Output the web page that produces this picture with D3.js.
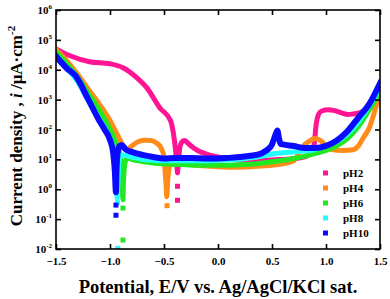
<!DOCTYPE html>
<html><head><meta charset="utf-8">
<script src="https://cdn.jsdelivr.net/npm/d3@7"></script>
<style>body{margin:0;background:#fff}svg{display:block}text{font-family:"Liberation Serif","Times New Roman",serif;font-weight:bold}</style>
</head><body>
<svg id="c" width="390" height="299"></svg>
<script>
// Potential (V) and log10 of current density (µA/cm²)
const seriesNames = ["pH2","pH4","pH6","pH8","pH10"];
const seriesColors = ["#ff1493","#ff8c1a","#22e822","#22ffff","#0a0aff"];

const pH2_E   = [-1.5,-1.37,-1.19,-1.0,-0.88,-0.75,-0.66,-0.54,-0.44,-0.41,-0.39,-0.38,-0.375,-0.365,-0.355,-0.34,-0.31,-0.28,-0.24,-0.18,-0.1,0.0,0.1,0.2,0.3,0.4,0.5,0.6,0.7,0.8,0.86,0.89,0.91,0.93,0.96,1.02,1.08,1.15,1.2,1.25,1.3,1.35,1.4,1.45,1.5];
const pH2_logI= [4.7,4.47,4.27,4.2,4.07,3.73,3.4,2.73,2.3,1.8,1.2,0.75,0.55,1.0,1.35,1.55,1.63,1.55,1.42,1.28,1.17,1.08,1.0,0.98,0.97,0.97,0.98,1.0,1.02,1.08,1.2,1.5,2.2,2.5,2.62,2.66,2.63,2.55,2.5,2.52,2.55,2.62,2.7,2.82,2.97];
const pH2_dotsE = [-0.375,-0.375];
const pH2_dotsLogI = [0.1,-0.37];

const pH4_E   = [-1.5,-1.4,-1.3,-1.2,-1.1,-1.0,-0.95,-0.9,-0.87,-0.85,-0.82,-0.78,-0.73,-0.68,-0.62,-0.57,-0.53,-0.5,-0.49,-0.48,-0.475,-0.465,-0.455,-0.44,-0.4,-0.3,-0.2,-0.1,0.0,0.1,0.2,0.3,0.4,0.5,0.6,0.7,0.74,0.78,0.84,0.9,0.96,1.0,1.05,1.15,1.25,1.3,1.35,1.4,1.45,1.5];
const pH4_logI= [4.68,4.3,3.85,3.35,2.85,2.3,1.95,1.6,1.38,1.3,1.38,1.5,1.6,1.64,1.63,1.55,1.4,1.1,0.6,0.1,-0.25,0.3,0.65,0.82,0.88,0.85,0.8,0.78,0.75,0.74,0.74,0.75,0.78,0.8,0.85,0.95,1.15,1.4,1.6,1.7,1.6,1.45,1.33,1.3,1.32,1.45,1.75,2.05,2.6,3.25];
const pH4_dotsE = [-0.472];
const pH4_dotsLogI = [-0.55];

const pH6_E   = [-1.5,-1.4,-1.3,-1.2,-1.1,-1.0,-0.95,-0.91,-0.89,-0.885,-0.88,-0.875,-0.87,-0.86,-0.84,-0.8,-0.7,-0.6,-0.5,-0.4,-0.3,-0.2,-0.1,0.0,0.1,0.2,0.3,0.4,0.5,0.6,0.7,0.8,0.9,1.0,1.1,1.2,1.3,1.4,1.5];
const pH6_logI= [4.6,4.2,3.75,3.2,2.65,2.0,1.6,1.2,0.6,0.0,-0.35,0.3,0.6,0.9,1.05,1.0,0.93,0.88,0.85,0.83,0.82,0.8,0.8,0.8,0.8,0.82,0.84,0.87,0.92,0.97,1.03,1.1,1.2,1.3,1.45,1.7,2.1,2.65,3.3];
const pH6_dotsE = [-0.88,-0.88];
const pH6_dotsLogI = [-0.63,-1.7];

const pH8_E   = [-1.5,-1.4,-1.3,-1.2,-1.1,-1.0,-0.96,-0.94,-0.935,-0.925,-0.92,-0.91,-0.88,-0.8,-0.7,-0.6,-0.5,-0.4,-0.3,-0.2,-0.1,0.0,0.1,0.2,0.3,0.4,0.5,0.6,0.7,0.8,0.9,1.0,1.1,1.2,1.3,1.4,1.5];
const pH8_logI= [4.45,4.05,3.6,2.95,2.35,1.7,1.2,0.5,-0.3,0.4,0.8,1.05,1.15,1.08,1.0,0.97,0.95,0.95,0.95,0.95,0.95,0.97,0.98,1.0,1.05,1.1,1.18,1.22,1.25,1.28,1.33,1.45,1.6,1.85,2.25,2.8,3.4];
const pH8_dotsE = [-0.93,-0.93];
const pH8_dotsLogI = [-0.45,-1.98];

const pH10_E   = [-1.5,-1.4,-1.32,-1.2,-1.1,-1.05,-1.0,-0.97,-0.955,-0.945,-0.94,-0.93,-0.91,-0.89,-0.86,-0.8,-0.7,-0.6,-0.5,-0.4,-0.3,-0.2,-0.1,0.0,0.1,0.2,0.3,0.4,0.45,0.5,0.53,0.55,0.565,0.58,0.6,0.7,0.8,0.9,1.0,1.1,1.2,1.3,1.4,1.5];
const pH10_logI= [4.45,4.05,3.8,3.0,2.3,2.0,1.65,1.2,0.6,-0.1,0.6,1.2,1.45,1.48,1.35,1.25,1.15,1.08,1.03,1.05,1.05,1.04,1.03,1.03,1.05,1.08,1.12,1.2,1.3,1.5,1.8,1.97,1.7,1.52,1.5,1.45,1.38,1.38,1.45,1.63,1.95,2.4,2.85,3.55];
const pH10_dotsE = [-0.945,-0.945];
const pH10_dotsLogI = [-0.53,-0.87];

const xTicks = [-1.5,-1.0,-0.5,0.0,0.5,1.0,1.5];
const yExponents = [-2,-1,0,1,2,3,4,5,6];

const curves = [
  {E:pH2_E, L:pH2_logI, dE:pH2_dotsE, dL:pH2_dotsLogI},
  {E:pH4_E, L:pH4_logI, dE:pH4_dotsE, dL:pH4_dotsLogI},
  {E:pH6_E, L:pH6_logI, dE:pH6_dotsE, dL:pH6_dotsLogI},
  {E:pH8_E, L:pH8_logI, dE:pH8_dotsE, dL:pH8_dotsLogI},
  {E:pH10_E, L:pH10_logI, dE:pH10_dotsE, dL:pH10_dotsLogI}
];

const svg = d3.select("#c");
const m = {l:56, r:380, t:10, b:249};
const x = d3.scaleLinear().domain([-1.5,1.5]).range([m.l,m.r]);
const y = d3.scaleLog().domain([1e-2,1e6]).range([m.b,m.t]);

svg.append("clipPath").attr("id","cp").append("rect")
  .attr("x",m.l).attr("y",m.t).attr("width",m.r-m.l).attr("height",m.b-m.t);
const g = svg.append("g").attr("clip-path","url(#cp)");

const line = d3.line().x(d=>x(d[0])).y(d=>y(Math.pow(10,d[1]))).curve(d3.curveMonotoneX);

curves.forEach((c,i)=>{
  const pts = c.E.map((e,k)=>[e,c.L[k]]);
  g.append("path").attr("d",line(pts)).attr("fill","none")
    .attr("stroke",seriesColors[i]).attr("stroke-width",i===4?6:5)
    .attr("stroke-linejoin","round").attr("stroke-linecap","square");
  g.selectAll(null).data(c.dE.map((e,k)=>[e,c.dL[k]])).enter().append("rect")
    .attr("x",d=>x(d[0])-2.5).attr("y",d=>y(Math.pow(10,d[1]))-2.5)
    .attr("width",5).attr("height",5).attr("fill",seriesColors[i]);
});

// frame
svg.append("rect").attr("x",m.l).attr("y",m.t).attr("width",m.r-m.l).attr("height",m.b-m.t)
  .attr("fill","none").attr("stroke","#000").attr("stroke-width",1.6);

// axes
const xb = svg.append("g").attr("transform",`translate(0,${m.b})`)
  .call(d3.axisBottom(x).tickValues(xTicks).tickSizeInner(-5).tickSizeOuter(0).tickPadding(8).tickFormat(d3.format(".1f")));
const xt = svg.append("g").attr("transform",`translate(0,${m.t})`)
  .call(d3.axisTop(x).tickValues(xTicks).tickSizeInner(-5).tickSizeOuter(0).tickFormat(""));
const yTickVals = yExponents.map(e=>Math.pow(10,e));
const yl = svg.append("g").attr("transform",`translate(${m.l},0)`)
  .call(d3.axisLeft(y).tickValues(yTickVals).tickSizeInner(-5).tickSizeOuter(0).tickFormat(""));
const yr = svg.append("g").attr("transform",`translate(${m.r},0)`)
  .call(d3.axisRight(y).tickValues(yTickVals).tickSizeInner(-5).tickSizeOuter(0).tickFormat(""));
[xb,xt,yl,yr].forEach(a=>{
  a.select(".domain").remove();
  a.selectAll(".tick line").attr("stroke","#000").attr("stroke-width",1.6);
});
xb.selectAll(".tick text").attr("font-size",11).attr("fill","#000")
  .attr("font-family","'Liberation Serif',serif").attr("font-weight","bold");

// y tick labels with superscripts
const ylab = svg.append("g");
yExponents.forEach(e=>{
  const t = ylab.append("text").attr("x",m.l-4).attr("y",y(Math.pow(10,e))+4)
    .attr("text-anchor","end").attr("font-size",11).attr("fill","#000");
  t.append("tspan").text("10");
  t.append("tspan").attr("dy",-5).attr("font-size",7).text(String(e));
});

// axis titles
svg.append("text").attr("x",218).attr("y",293).attr("text-anchor","middle")
  .attr("font-size",18.5).text("Potential, E/V vs. Ag/AgCl/KCl sat.");
const yt = svg.append("text").attr("transform","translate(22,126) rotate(-90)")
  .attr("text-anchor","middle").attr("font-size",17);
yt.append("tspan").text("Current density , ");
yt.append("tspan").attr("font-style","italic").text("i");
yt.append("tspan").text(" /μA·cm");
yt.append("tspan").attr("dy",-7).attr("font-size",11).text("-2");

// legend
const leg = svg.append("g");
seriesNames.forEach((n,i)=>{
  const yy = 173 + i*15;
  leg.append("rect").attr("x",323).attr("y",yy-2.5).attr("width",5).attr("height",5).attr("fill",seriesColors[i]);
  leg.append("text").attr("x",343).attr("y",yy+4).attr("font-size",11).text(n);
});
</script>
</body></html>
